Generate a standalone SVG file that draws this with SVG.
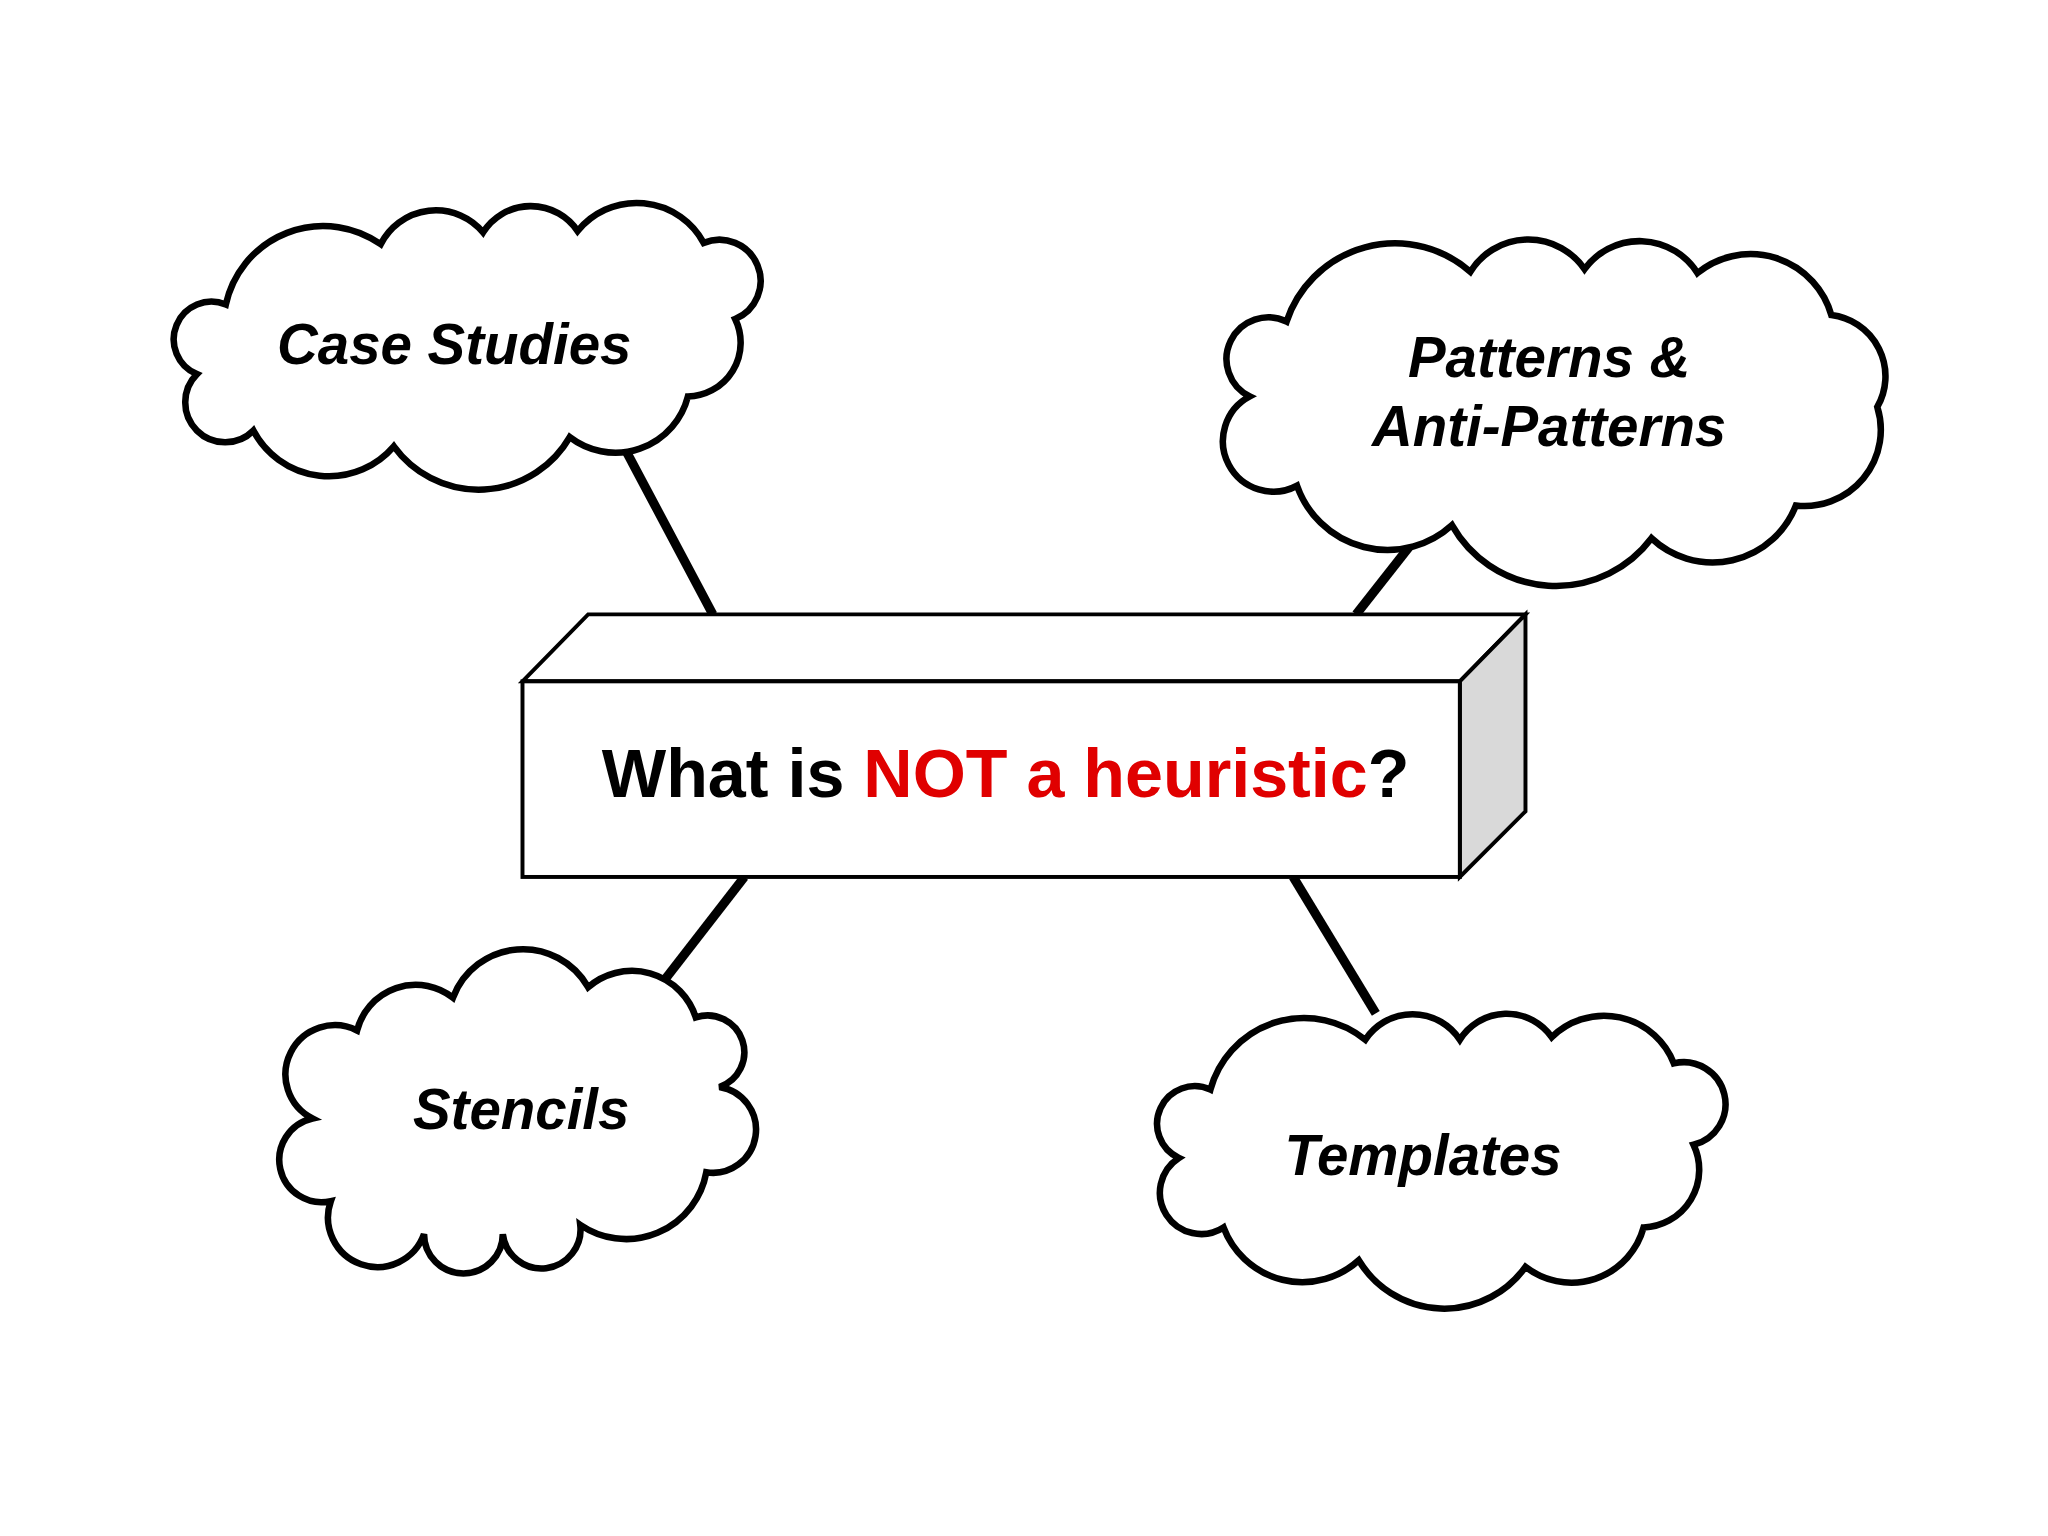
<svg xmlns="http://www.w3.org/2000/svg" width="2048" height="1536" viewBox="0 0 2048 1536">
<style>
.cloud{fill:#fff;stroke:#000;stroke-width:5}
.lbl{font-family:"Liberation Sans",Arial,sans-serif;font-weight:bold;font-style:italic;font-size:43px;text-anchor:middle;fill:#000}
.conn{stroke:#000;stroke-width:7}
</style>
<rect width="2048" height="1536" fill="#fff"/>
<g transform="scale(1.3128)">
<g id="connectors">
<line class="conn" x1="475" y1="340" x2="543" y2="468"/>
<line class="conn" x1="1077" y1="412" x2="1033" y2="468"/>
<line class="conn" x1="567" y1="668" x2="505" y2="748"/>
<line class="conn" x1="985" y1="668" x2="1048" y2="772"/>
</g>
<g id="case-studies">
<path class="cloud" d="M172,232 A76 76 0 0 1 290,186 A47 47 0 0 1 368,177 A43 43 0 0 1 440,176 A58 58 0 0 1 536,185 A1 1 0 0 1 560,243 A41 41 0 0 1 524,302 A57 57 0 0 1 434,333 A80 80 0 0 1 300,340 A65 65 0 0 1 193,328 A1 1 0 0 1 150,285 A1 1 0 0 1 172,232 Z"/>
<text class="lbl" x="346" y="277">Case Studies</text>
</g>
<g id="patterns">
<path class="cloud" d="M980,245 A87 87 0 0 1 1120,207 A52 52 0 0 1 1207,205 A52 52 0 0 1 1293,208 A64 64 0 0 1 1395,240 A47 47 0 0 1 1430,310 A58 58 0 0 1 1368,385 A68 68 0 0 1 1258,410 A91 91 0 0 1 1106,400 A73 73 0 0 1 988,370 A1 1 0 0 1 952,302 A1 1 0 0 1 980,245 Z"/>
<text class="lbl" x="1180" y="287">Patterns &amp;</text>
<text class="lbl" x="1180" y="340">Anti-Patterns</text>
</g>
<g id="stencils">
<path class="cloud" d="M272,785 A46 46 0 0 1 345,760 A57 57 0 0 1 448,752 A51 51 0 0 1 530,775 A1 1 0 0 1 548,828 A1 1 0 0 1 538,893 A62 62 0 0 1 442,933 A1 1 0 0 1 383,940 A1 1 0 0 1 323,940 A1 1 0 0 1 252,915 A1 1 0 0 1 238,852 A1 1 0 0 1 272,785 Z"/>
<text class="lbl" x="397" y="860">Stencils</text>
</g>
<g id="templates">
<path class="cloud" d="M922,830 A74 74 0 0 1 1040,792 A43 43 0 0 1 1112,792 A42 42 0 0 1 1182,790 A57 57 0 0 1 1275,810 A1 1 0 0 1 1290,872 A44 44 0 0 1 1252,935 A57 57 0 0 1 1162,965 A76 76 0 0 1 1035,960 A64 64 0 0 1 932,935 A1 1 0 0 1 898,882 A1 1 0 0 1 922,830 Z"/>
<text class="lbl" x="1084" y="895">Templates</text>
</g>
<g id="question" stroke="#000" stroke-width="3" stroke-linejoin="miter">
<polygon points="398,519 448,468 1162,468 1112,519" fill="#fff"/>
<polygon points="1112,519 1162,468 1162,618 1112,668" fill="#d9d9d9"/>
<rect x="398" y="519" width="714" height="149" fill="#fff"/>
<text x="766" y="607" text-anchor="middle" stroke="none" font-family="'Liberation Sans',Arial,sans-serif" font-weight="bold" font-size="52" fill="#000">What is <tspan fill="#e00000">NOT a heuristic</tspan>?</text>
</g>
</g>
</svg>
